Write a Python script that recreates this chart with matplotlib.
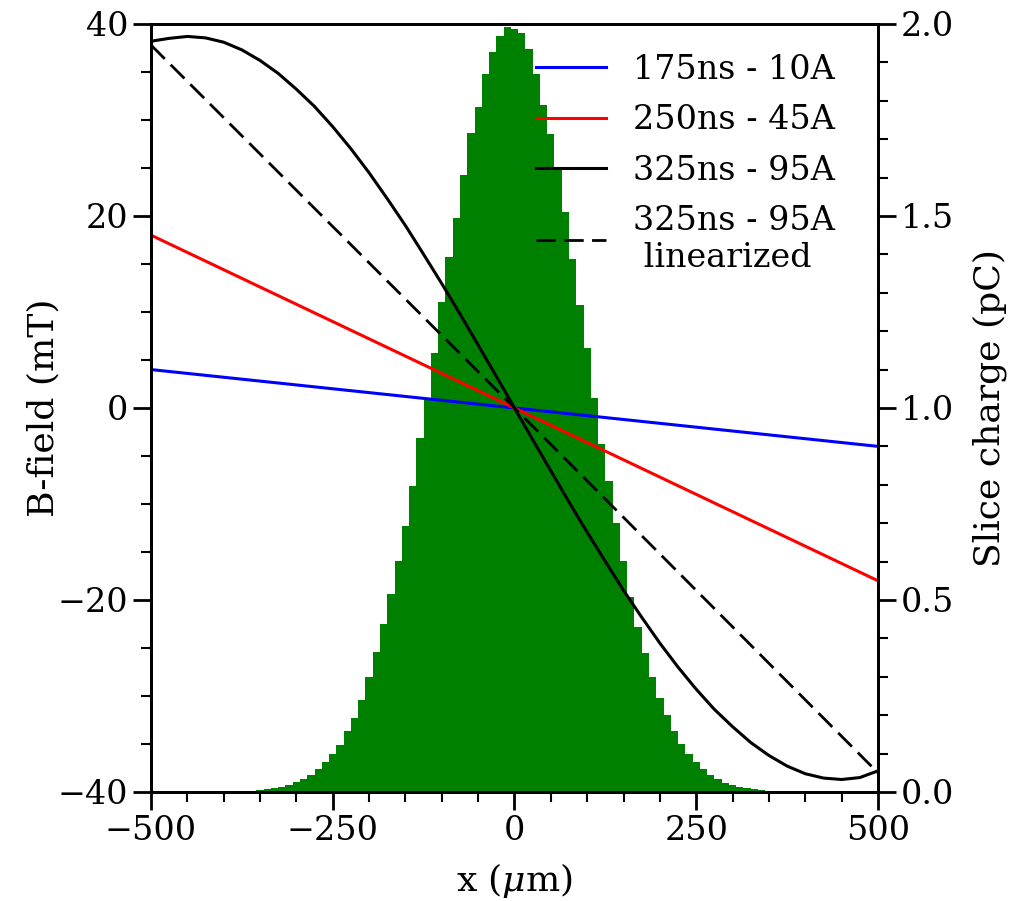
import numpy as np
import matplotlib
matplotlib.use("Agg")
import matplotlib.pyplot as plt

plt.rcParams['font.family'] = 'DejaVu Serif'
plt.rcParams['mathtext.fontset'] = 'dejavuserif'
plt.rcParams['font.size'] = 24

# slice charge histogram (bin centres in um, charge in pC)
bin_centers = np.arange(-350, 360, 10)
slice_charge = [
    0.005, 0.007, 0.010, 0.013, 0.017, 0.025, 0.033, 0.043, 0.059, 0.078,   # -350 .. -260
    0.099, 0.122, 0.159, 0.192, 0.240, 0.300, 0.365, 0.437, 0.515, 0.602,   # -250 .. -160
    0.693, 0.797, 0.923, 1.021, 1.142, 1.276, 1.392, 1.494, 1.607, 1.715,   # -150 .. -60
    1.783, 1.869, 1.928, 1.968, 1.992, 1.988, 1.977, 1.934, 1.870, 1.790,   # -50 .. 40
    1.713, 1.622, 1.510, 1.389, 1.268, 1.155, 1.027, 0.906, 0.811, 0.701,   # 50 .. 140
    0.602, 0.509, 0.430, 0.361, 0.300, 0.245, 0.200, 0.159, 0.125, 0.099,   # 150 .. 240
    0.077, 0.059, 0.043, 0.033, 0.024, 0.017, 0.013, 0.010, 0.007, 0.005,   # 250 .. 340
    0.003,                                                                  # 350
]

# B-field curves (mT)
x_lin = [-500, 0, 500]
b_175ns = [4.0, 0.0, -4.0]
b_250ns = [18.0, 0.0, -18.0]
b_325ns_lin = [37.8, 0.0, -38.0]

x_325 = np.arange(-500, 501, 25)
b_325ns = [38.2, 38.5, 38.7, 38.55, 38.1, 37.3, 36.2, 34.85, 33.2, 31.4,
           29.3, 27.0, 24.5, 21.8, 19.0, 16.0, 12.95, 9.8, 6.55, 3.3,
           0.0,
           -3.3, -6.55, -9.8, -12.95, -16.0, -19.0, -21.8, -24.5, -27.0, -29.3,
           -31.4, -33.2, -34.85, -36.2, -37.3, -38.1, -38.55, -38.7, -38.5, -37.8]

labels = ['175ns - 10A', '250ns - 45A', '325ns - 95A', '325ns - 95A\n linearized']

fig = plt.figure(figsize=(10.30, 9.01), dpi=100)
ax1 = fig.add_axes([0.1466, 0.121, 0.7058, 0.8524])
ax2 = ax1.twinx()

ax2.bar(bin_centers, slice_charge, width=10, color='green', linewidth=0)
ax2.set_ylim(0, 2.0)
ax2.set_ylabel('Slice charge (pC)', fontsize=26, labelpad=13)

ax1.set_zorder(ax2.get_zorder() + 1)
ax1.patch.set_visible(False)

ax1.plot(x_lin, b_175ns, color='blue', lw=2.2, label=labels[0])
ax1.plot(x_lin, b_250ns, color='red', lw=2.2, label=labels[1])
ax1.plot(x_325, b_325ns, color='black', lw=2.2, label=labels[2])
ax1.plot(x_lin, b_325ns_lin, color='black', lw=2.0, ls=(0, (7, 3)), label=labels[3])

ax1.set_xlim(-500, 500)
ax1.set_ylim(-40, 40)
ax1.set_xticks([-500, -250, 0, 250, 500])
ax1.set_yticks([-40, -20, 0, 20, 40])
ax1.set_xticks(np.arange(-500, 501, 50), minor=True)
ax1.set_yticks(np.arange(-40, 41, 5), minor=True)
ax2.set_yticks([0.0, 0.5, 1.0, 1.5, 2.0])
ax2.set_yticks(np.arange(0, 2.01, 0.1), minor=True)
ax1.set_xlabel(r'x ($\mu$m)', fontsize=26, labelpad=10)
ax1.set_ylabel('B-field (mT)', fontsize=26, labelpad=-2)

for ax in (ax1, ax2):
    ax.tick_params(which='major', length=13, width=2)
    ax.tick_params(which='minor', length=7, width=1.5)
    for sp in ax.spines.values():
        sp.set_linewidth(2)

ax1.legend(loc='upper right', frameon=False, bbox_to_anchor=(0.982, 1.0),
           handlelength=2.1, labelspacing=0.55, handletextpad=0.8)

fig.savefig('out.png', dpi=100)
